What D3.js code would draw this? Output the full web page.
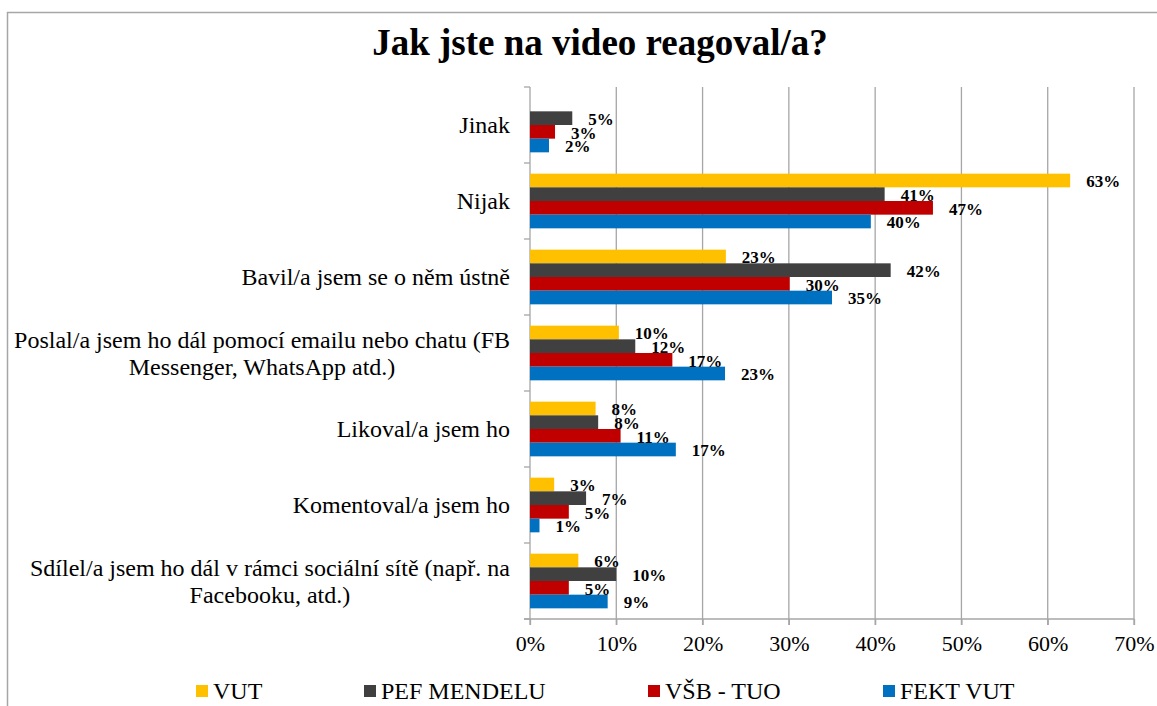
<!DOCTYPE html>
<html>
<head>
<meta charset="utf-8">
<script src="https://cdn.jsdelivr.net/npm/d3@7"></script>
<style>
  body { margin: 0; background: #fff; }
  svg text { font-family: "Liberation Serif", "Times New Roman", serif; }
</style>
</head>
<body>
<svg width="1157" height="706"></svg>
<script>
const categories = [
  ["Jinak"],
  ["Nijak"],
  ["Bavil/a jsem se o něm ústně"],
  ["Poslal/a jsem ho dál pomocí emailu nebo chatu (FB", "Messenger, WhatsApp  atd.)"],
  ["Likoval/a jsem ho"],
  ["Komentoval/a jsem ho"],
  ["Sdílel/a jsem ho dál v rámci sociální sítě (např. na", "Facebooku, atd.)"]
];

const seriesNames = ["VUT", "PEF MENDELU", "VŠB - TUO", "FEKT VUT"];

// percent, same order as categories (null = no bar)
const vut     = [null, 62.6, 22.7, 10.3, 7.6, 2.8, 5.6];
const pef     = [4.9, 41.1, 41.8, 12.2, 7.9, 6.5, 10.0];
const vsb     = [2.9, 46.7, 30.1, 16.5, 10.5, 4.5, 4.5];
const fekt    = [2.2, 39.5, 35.0, 22.6, 16.9, 1.1, 9.0];

const xTicks = [0, 10, 20, 30, 40, 50, 60, 70];

const colors = ["#FFC000", "#404040", "#C00000", "#0070C0"];

const allSeries = [vut, pef, vsb, fekt];

const serif = "Liberation Serif";

let svg = d3.select("svg");

let plot = { left: 530, right: 1134, top: 87, bottom: 619 };

// chart frame
svg.append("rect")
   .attr("x", 7.5).attr("y", 12.5)
   .attr("width", 1170).attr("height", 720)
   .attr("fill", "none")
   .attr("stroke", "#a6a6a6")
   .attr("stroke-width", 1.5);

svg.append("text")
   .attr("x", 600).attr("y", 55)
   .attr("text-anchor", "middle")
   .attr("font-family", serif)
   .attr("font-size", 37)
   .attr("font-weight", "bold")
   .text("Jak jste na video reagoval/a?");

const xScale = d3.scaleLinear()
                 .domain([0, 70])
                 .range([plot.left, plot.right]);

const yScale = d3.scaleBand()
                 .domain(d3.range(categories.length))
                 .range([plot.top, plot.bottom])
                 .padding(0);

const y1 = d3.scaleBand()
             .domain(d3.range(seriesNames.length))
             .range([0, yScale.bandwidth()])
             .paddingInner(0)
             .paddingOuter(0.78);

// grid
svg.append("g")
   .selectAll("line").data(xTicks)
   .enter().append("line")
   .attr("x1", d => xScale(d)).attr("x2", d => xScale(d))
   .attr("y1", plot.top).attr("y2", plot.bottom + 6)
   .attr("stroke", "#a6a6a6")
   .attr("stroke-width", 1.3);

// x axis
const xAxis = svg.append("g")
                 .attr("transform", "translate(0," + plot.bottom + ")")
                 .call(d3.axisBottom(xScale).tickValues(xTicks).tickSize(6).tickFormat(d => d + "%"));
xAxis.attr("font-family", serif).attr("font-size", 22);
xAxis.select(".domain").remove();
xAxis.selectAll(".tick line").attr("stroke", "#a6a6a6").attr("stroke-width", 1.3);
xAxis.selectAll("text")
     .attr("fill", "#000")
     .attr("dy", "1.05em");

svg.append("line")
   .attr("x1", plot.left - 6).attr("x2", plot.right)
   .attr("y1", plot.bottom).attr("y2", plot.bottom)
   .attr("stroke", "#a6a6a6").attr("stroke-width", 1.3);

// category ticks on left
svg.append("g")
   .selectAll("line").data(d3.range(categories.length + 1))
   .enter().append("line")
   .attr("x1", plot.left - 6).attr("x2", plot.left)
   .attr("y1", i => plot.top + i * yScale.step())
   .attr("y2", i => plot.top + i * yScale.step())
   .attr("stroke", "#a6a6a6").attr("stroke-width", 1.3);

// category labels
let catGrp = svg.append("g").attr("font-family", serif).attr("font-size", 24);
categories.forEach((lines, i) => {
  const cy = yScale(i) + yScale.bandwidth() / 2;
  const lh = 27;
  let t = catGrp.append("text").attr("y", cy - (lines.length - 1) * lh / 2);
  lines.forEach((ln, j) => {
    t.append("tspan").attr("x", 510).attr("dy", j === 0 ? "0.35em" : lh).text(ln);
  });
  if (lines.length > 1) {
    // lines centred on each other, block right aligned
    const w = t.node().getBBox().width;
    t.attr("text-anchor", "middle");
    t.selectAll("tspan").attr("x", 510 - w / 2);
  } else {
    t.attr("text-anchor", "end");
  }
});

// bars
let barGrp = svg.append("g");
allSeries.forEach((vals, s) => {
  barGrp.append("g")
        .selectAll("rect").data(vals.map((v, i) => ({ v: v, i: i })).filter(d => d.v != null))
        .enter().append("rect")
        .attr("x", xScale(0))
        .attr("y", d => yScale(d.i) + y1(s))
        .attr("width", d => xScale(d.v) - xScale(0))
        .attr("height", y1.bandwidth())
        .attr("fill", colors[s]);
});

// value labels
let lblGrp = svg.append("g").attr("font-family", serif).attr("font-size", 17).attr("font-weight", "bold");
allSeries.forEach((vals, s) => {
  lblGrp.append("g")
        .selectAll("text").data(vals.map((v, i) => ({ v: v, i: i })).filter(d => d.v != null))
        .enter().append("text")
        .attr("x", d => xScale(d.v) + 16)
        .attr("y", d => yScale(d.i) + y1(s) + y1.bandwidth() / 2 + 1)
        .attr("dy", "0.35em")
        .text(d => Math.round(d.v) + "%");
});

// legend
const legendX = [196, 364, 648, 883];
let legend = svg.append("g").attr("font-family", serif).attr("font-size", 24);
seriesNames.forEach((name, i) => {
  legend.append("rect")
        .attr("x", legendX[i]).attr("y", 685)
        .attr("width", 12).attr("height", 12)
        .attr("fill", colors[i]);
  legend.append("text")
        .attr("x", legendX[i] + 17).attr("y", 699)
        .text(name);
});
</script>
</body>
</html>
